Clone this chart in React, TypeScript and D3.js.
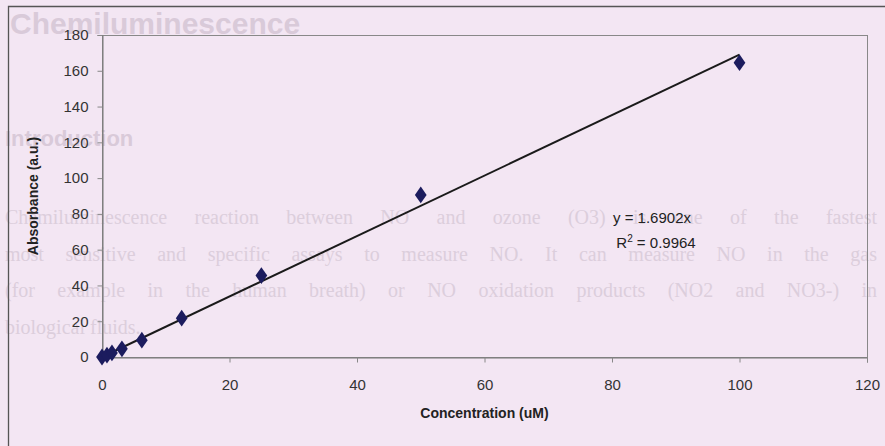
import React, { useEffect, useRef } from "react";
import * as d3 from "d3";

// calibration data (serial dilutions)
const concentrations = [0, 0.78, 1.56, 3.125, 6.25, 12.5, 25, 50, 100];
const absorbance = [0, 1.0, 2.3, 4.6, 9.4, 21.7, 45.5, 90.6, 164.5];
const xTicks = [0, 20, 40, 60, 80, 100, 120];
const yTicks = [0, 20, 40, 60, 80, 100, 120, 140, 160, 180];
const slope = 1.6902;
const rSquared = "0.9964";

// faint page text showing through behind the chart
const pageLines = [
  "Chemiluminescence reaction between NO and ozone (O3) is one of the fastest",
  "most sensitive and specific assays to measure NO. It can measure NO in the gas",
  "(for example in the human breath) or NO oxidation products (NO2 and NO3-) in",
  "biological fluids.",
];

const W = 885;
const H = 446;

const App = () => {
  const ref = useRef<SVGSVGElement>(null);

  useEffect(() => {
    const svg = d3.select(ref.current);
    svg.selectAll("*").remove();

    const left = 102, right = 867, top = 35, bottom = 357;
    const x = d3.scaleLinear().domain([0, 120]).range([left, right]);
    const y = d3.scaleLinear().domain([0, 180]).range([bottom, top]);

    svg.append("rect").attr("width", W).attr("height", H).attr("fill", "#f3e6f3");

    // background page text
    const faint = "#dccedc";
    svg.append("text").attr("x", 10).attr("y", 34)
      .attr("font-family", "Liberation Sans, Arial").attr("font-weight", "bold")
      .attr("font-size", 30).attr("fill", "#d9cad9").text("Chemiluminescence");
    svg.append("text").attr("x", 5).attr("y", 146)
      .attr("font-family", "Liberation Sans, Arial").attr("font-weight", "bold")
      .attr("font-size", 22).attr("fill", "#d9cad9").text("Introduction");
    const para = svg.selectAll("text.page").data(pageLines).enter().append("text")
      .attr("class", "page")
      .attr("x", 5)
      .attr("y", (_, i) => 224 + i * 36.7)
      .attr("font-family", "Liberation Serif, Times New Roman").attr("font-size", 20)
      .attr("fill", faint)
      .text((d) => d);
    // justify the full lines by widening word gaps
    para.each(function (d, i) {
      if (i > 2) return;
      const el = this as SVGTextElement;
      const len = el.getComputedTextLength();
      const gaps = d.split(" ").length - 1;
      const ws = Math.max(0, (872 - len) / gaps);
      el.setAttribute("word-spacing", String(ws));
    });

    // outer chart frame
    svg.append("path").attr("d", `M8.5,${H}V6.5H${W}`)
      .attr("fill", "none").attr("stroke", "#555").attr("stroke-width", 1.3);

    // plot area
    svg.append("rect")
      .attr("x", left + 0.5).attr("y", top + 0.5)
      .attr("width", right - left).attr("height", bottom - top)
      .attr("fill", "none").attr("stroke", "#888").attr("stroke-width", 1);

    const font = "Liberation Sans, Arial, sans-serif";

    const yAxis = svg.append("g").attr("transform", `translate(${left + 0.5},0)`)
      .call(d3.axisLeft(y).tickValues(yTicks).tickSize(5).tickPadding(9));
    const xAxis = svg.append("g").attr("transform", `translate(0,${bottom + 0.5})`)
      .call(d3.axisBottom(x).tickValues(xTicks).tickSize(5).tickPadding(17));
    [yAxis, xAxis].forEach((g) => {
      g.select(".domain").attr("stroke", "#777");
      g.selectAll(".tick line").attr("stroke", "#888");
      g.selectAll(".tick text").attr("font-family", font).attr("font-size", 15).attr("fill", "#333");
    });

    // linear fit through origin
    svg.append("line")
      .attr("x1", x(0)).attr("y1", y(0))
      .attr("x2", x(100)).attr("y2", y(slope * 100))
      .attr("stroke", "#1a1a1a").attr("stroke-width", 2);

    const pts = concentrations.map((c, i) => [c, absorbance[i]]);
    svg.selectAll("path.pt").data(pts).enter().append("path")
      .attr("class", "pt")
      .attr("d", d3.symbol().type(d3.symbolDiamond).size(90))
      .attr("transform", (d) => `translate(${x(d[0])},${y(d[1])}) scale(1.15,0.95)`)
      .attr("fill", "#1c1c5e");

    // equation
    svg.append("text").attr("x", 652).attr("y", 223).attr("text-anchor", "middle")
      .attr("font-family", font).attr("font-size", 15).attr("fill", "#222")
      .text(`y = ${slope}x`);
    const r2 = svg.append("text").attr("x", 656).attr("y", 248).attr("text-anchor", "middle")
      .attr("font-family", font).attr("font-size", 15).attr("fill", "#222");
    r2.append("tspan").text("R");
    r2.append("tspan").attr("font-size", 10).attr("dy", -6).text("2");
    r2.append("tspan").attr("dy", 6).text(` = ${rSquared}`);

    // axis titles
    svg.append("text")
      .attr("transform", `translate(38,${(top + bottom) / 2}) rotate(-90)`)
      .attr("text-anchor", "middle")
      .attr("font-family", font).attr("font-weight", "bold").attr("font-size", 14).attr("fill", "#222")
      .text("Absorbance (a.u.)");
    svg.append("text").attr("x", (left + right) / 2).attr("y", 418)
      .attr("text-anchor", "middle")
      .attr("font-family", font).attr("font-weight", "bold").attr("font-size", 14).attr("fill", "#222")
      .text("Concentration (uM)");
  }, []);

  return (
    <div style={{ position: "absolute", left: 0, top: 0 }}>
      <svg ref={ref} width={W} height={H} style={{ display: "block" }} />
    </div>
  );
};

export default App;
